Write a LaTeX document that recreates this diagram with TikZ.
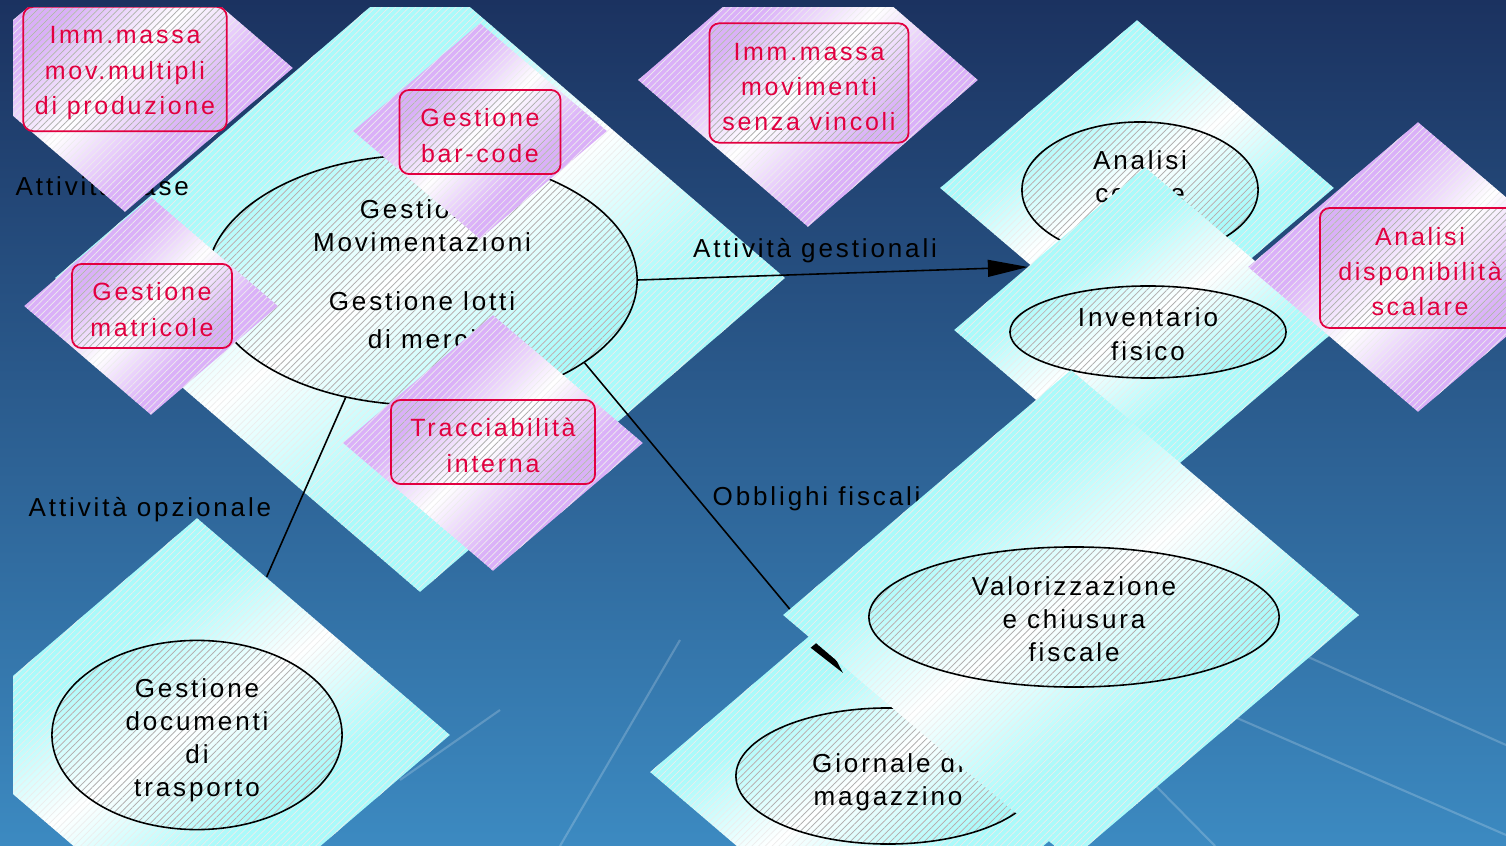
\documentclass[tikz,border=0pt]{standalone}
\usepackage{fontspec}
\setmainfont[LetterSpace=11]{Liberation Sans}
\usetikzlibrary{shapes.geometric, patterns.meta, arrows.meta}

\definecolor{bgtop}{RGB}{27,50,96}
\definecolor{bgbot}{RGB}{60,138,193}
\definecolor{diacyan}{RGB}{170,250,250}
\definecolor{diapurple}{RGB}{218,176,248}
\definecolor{boxred}{RGB}{226,0,64}

\pgfdeclareverticalshading{cyanband}{100bp}{color(0bp)=(diacyan); color(39bp)=(diacyan); color(51bp)=(white); color(63bp)=(diacyan); color(100bp)=(diacyan)}
\pgfdeclareverticalshading{purpleband}{100bp}{color(0bp)=(diapurple); color(37bp)=(diapurple); color(50bp)=(white); color(63bp)=(diapurple); color(100bp)=(diapurple)}

\newcommand{\blacktext}{\fontsize{7.4}{9.4}\selectfont}
\newcommand{\redtext}{\fontsize{7.1}{10}\selectfont}
\newcommand{\padtop}[1]{\rule{0pt}{#1}}

\tikzset{
  hatch/.style = {pattern = {Lines[angle = 45, distance = 1.35pt, line width = 0.2pt]}, pattern color = black!32},
  faint/.style = {postaction = {pattern = {Lines[angle = 45, distance = 1.35pt, line width = 0.2pt]}, pattern color = black!7}},
  cyandia/.style = {shape = diamond, inner sep = 0pt, shading = cyanband, shading angle = 35, faint},
  purpledia/.style = {shape = diamond, inner sep = 0pt, shading = purpleband, shading angle = 45, faint},
  usecase/.style = {shape = ellipse, draw, line width = 0.45pt, inner sep = 0pt, hatch, align = center, font = \blacktext},
  redbox/.style = {shape = rectangle, rounded corners = 2.8pt, draw = boxred, line width = 0.5pt, hatch, text = boxred, align = center, font = \redtext},
  flowlabel/.style = {font = \blacktext, inner sep = 0pt},
  conn/.style = {line width = 0.45pt},
  tip/.style = {-{Triangle[length = 11.4pt, width = 4.8pt]}},
  ray/.style = {white, opacity = 0.2, line width = 0.6pt}
}

\begin{document}
\begin{tikzpicture}[x = 0.01cm, y = -0.01cm]
    \useasboundingbox (0,0) rectangle (1506,846);
    \shade[top color = bgtop, bottom color = bgbot] (0,0) rectangle (1506,846);
    \draw[ray] (1270,640) -- (1506,745);
    \draw[ray] (1230,715) -- (1506,835);
    \draw[ray] (1150,780) -- (1215,846);
    \draw[ray] (560,846) -- (680,640);
    \draw[ray] (400,780) -- (500,710);
    \draw[ray] (13,730) -- (80,700);
    \begin{scope}
        \clip (13,8) rectangle (1506,846);
        \node[cyandia, minimum width = 7.3cm, minimum height = 6.28cm] (A) at (420,278) {};
        \node[usecase, minimum width = 4.3cm, minimum height = 2.5cm,
              execute at end node = {\rule[-3.4pt]{0pt}{0pt}}] (MOV) at (422,280)
            {Gestione\\Movimentazioni\\[7.4pt]Gestione lotti\\[1.4pt]di merci};
        \node[flowlabel, anchor = west] (LBASE) at (15,186) {Attività base};
        \node[purpledia, minimum width = 3.36cm, minimum height = 2.88cm] (D1) at (125,68) {};
        \node[redbox, minimum width = 1.99cm, minimum height = 1.17cm] (MULT) at (125,69)
            {\padtop{7.2pt}Imm.massa\\mov.multipli\\di produzione};
        \node[purpledia, minimum width = 2.54cm, minimum height = 2.18cm] (D3) at (151,306) {};
        \node[redbox, minimum width = 1.6cm, minimum height = 0.82cm] (MATR) at (152,306)
            {\padtop{7.2pt}Gestione\\matricole};
        \node[purpledia, minimum width = 2.54cm, minimum height = 2.16cm] (D4) at (480,131) {};
        \node[redbox, minimum width = 1.61cm, minimum height = 0.82cm] (BAR) at (480,132)
            {\padtop{7.2pt}Gestione\\bar-code};
        \node[purpledia, minimum width = 3cm, minimum height = 2.56cm] (D5) at (493,443) {};
        \node[redbox, minimum width = 2.04cm, minimum height = 0.82cm] (TRAC) at (493,442)
            {\padtop{7.2pt}Tracciabilità\\interna};
        \node[purpledia, minimum width = 3.4cm, minimum height = 2.94cm] (D12) at (808,80) {};
        \node[redbox, minimum width = 1.99cm, minimum height = 1.19cm] (SENZA) at (809,83)
            {\padtop{7.2pt}Imm.massa\\movimenti\\senza vincoli};
        \node[flowlabel, anchor = west] (LOPZ) at (28,510) {Attività opzionale};
        \node[cyandia, minimum width = 5.06cm, minimum height = 4.34cm] (D6) at (197,735) {};
        \node[usecase, minimum width = 2.9cm, minimum height = 1.84cm] (DOC) at (197,735)
            {\padtop{8.3pt}Gestione\\documenti\\di\\trasporto};
        \draw[conn] (MOV.237) -- (D6);
        \node[cyandia, minimum width = 3.94cm, minimum height = 3.36cm] (D7) at (1137,188) {};
        \node[usecase, minimum width = 2.36cm, minimum height = 1.36cm] (COSTI) at (1140,190)
            {\padtop{7.2pt}Analisi\\costi e\\~};
        \node[cyandia, minimum width = 3.82cm, minimum height = 3.26cm] (D8) at (1145,330) {};
        \node[usecase, minimum width = 2.76cm, minimum height = 0.92cm] (INV) at (1148,332)
            {\padtop{6.6pt}Inventario\\fisico};
        \node[purpledia, minimum width = 3.4cm, minimum height = 2.9cm] (D9) at (1418,267) {};
        \node[redbox, minimum width = 2cm, minimum height = 1.2cm] (DISP) at (1420,268)
            {\padtop{7.2pt}Analisi\\disponibilità\\scalare};
        \coordinate (GT) at (1028,267);
        \draw[conn, tip] (MOV.east) -- (GT);
        \node[flowlabel] (LGEST) at (815,251) {Attività gestionali};
        \node[cyandia, minimum width = 4.8cm, minimum height = 4.1cm] (D11) at (890,772) {};
        \node[usecase, minimum width = 3.04cm, minimum height = 1.36cm] (GIOR) at (888,776)
            {\padtop{8.9pt}Giornale di\\magazzino};
        \coordinate (OT) at (843,673);
        \draw[conn, tip] (MOV.333) -- (OT);
        \node[flowlabel, anchor = west] (LOBB) at (712,499) {Obblighi fiscali};
        \node[cyandia, minimum width = 5.76cm, minimum height = 4.9cm] (D10) at (1071,615) {};
        \node[usecase, minimum width = 4.1cm, minimum height = 1.4cm] (VAL) at (1074,617)
            {\padtop{6.6pt}Valorizzazione\\e chiusura\\fiscale};
    \end{scope}
\end{tikzpicture}
\end{document}
